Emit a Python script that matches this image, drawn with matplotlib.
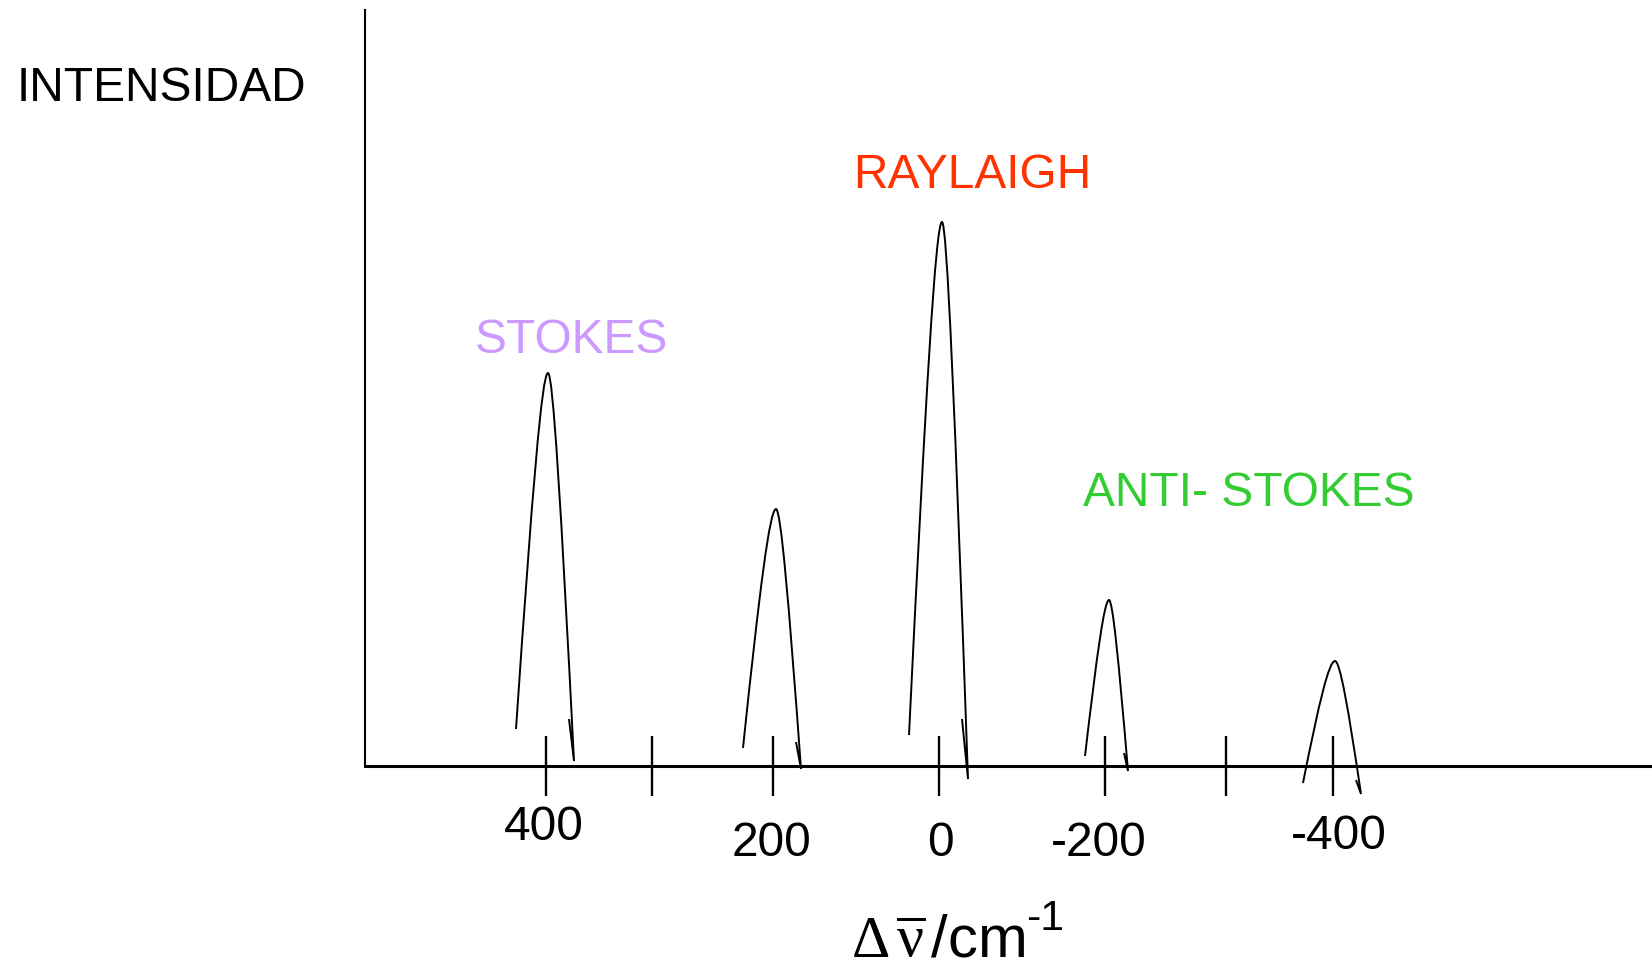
import matplotlib
matplotlib.use("Agg")
import matplotlib.pyplot as plt
from matplotlib.path import Path
from matplotlib.patches import PathPatch

plt.rcParams["font.family"] = ["Liberation Sans", "DejaVu Sans"]
plt.rcParams["mathtext.fontset"] = "custom"
plt.rcParams["mathtext.rm"] = "Liberation Serif"
plt.rcParams["mathtext.it"] = "Liberation Serif:italic"
plt.rcParams["mathtext.sf"] = "Liberation Sans"

# Drawing units: x = distance right of the intensity axis, y = height above the baseline
tick_pos = [181, 287, 408, 574, 740, 861, 968]
tick_labels = ["400", "", "200", "0", "-200", "", "-400"]
label_x = [179, 0, 406, 575, 734, 0, 974]
label_drop = [74, 0, 90, 90, 90, 0, 83]   # hand-placed label baselines below the axis

# peaks: apex, left foot, right end, hook tip
peak_x = [183, 411, 577, 744, 970]
peak_h = [393, 257, 544, 166, 105]
foot_left_x = [151, 378, 544, 720, 938]
foot_left_y = [37, 18, 31, 10, -17]
end_right_x = [209, 436, 603, 763, 996]
end_right_y = [5, -3, -13, -5, -28]
hook_x = [204, 431, 597, 759, 991]
hook_y = [47, 24, 47, 13, -14]

band_names = ["STOKES", "RAYLAIGH", "ANTI- STOKES"]
band_x = [206, 607, 884]
band_y = [413, 578, 260]
band_colors = ["#cc99ff", "#ff3300", "#33cc33"]

fig = plt.figure(figsize=(16.52, 9.66), dpi=100)
ax = fig.add_axes([365 / 1652, 200 / 966, 1287 / 1652, 756 / 966])
ax.set_xlim(0, 1287)
ax.set_ylim(0, 756)
ax.spines["top"].set_visible(False)
ax.spines["right"].set_visible(False)
ax.spines["left"].set_linewidth(1.5)
ax.spines["bottom"].set_linewidth(2.2)
ax.set_yticks([])
ax.set_xticks(tick_pos)
ax.set_xticklabels([])
ax.tick_params(axis="x", direction="inout", length=42.5, width=1.7)


def peak_path(xa, ya, xl, yl, xr, yr, xh, yh):
    # rounded top with almost straight flanks
    dxl, dyl = xl - xa, yl - ya
    dxr, dyr = xr - xa, yr - ya
    verts = [
        (xl, yl),
        (xa + 0.5 * dxl, ya + 0.34 * dyl), (xa + 0.19 * dxl, ya), (xa, ya),
        (xa + 0.19 * dxr, ya), (xa + 0.5 * dxr, ya + 0.34 * dyr), (xr, yr),
        (xh, yh),
    ]
    codes = [Path.MOVETO] + [Path.CURVE4] * 6 + [Path.LINETO]
    return Path(verts, codes)


for i in range(len(peak_x)):
    p = peak_path(peak_x[i], peak_h[i], foot_left_x[i], foot_left_y[i],
                  end_right_x[i], end_right_y[i], hook_x[i], hook_y[i])
    ax.add_patch(PathPatch(p, fill=False, lw=1.4, ec="black", clip_on=False, zorder=3))

for x, lab, drop in zip(label_x, tick_labels, label_drop):
    if lab:
        ax.text(x, -drop, lab, fontsize=34.5, ha="center", va="baseline", clip_on=False)

for name, x, y, c in zip(band_names, band_x, band_y, band_colors):
    ax.text(x, y, name, fontsize=34.5, color=c, ha="center", va="baseline")

ax.text(-348, 665, "INTENSIDAD", fontsize=34.5, ha="left", va="baseline", clip_on=False)

# x-axis title: serif delta / nu-bar, sans "/cm" with a small "-1" raised after it
xt = ax.text(573, -191, r"$\mathrm{\Delta}\,\overline{\mathrm{\nu}}\,$/cm", fontsize=43,
             ha="center", va="baseline", clip_on=False)
ax.annotate("-1", xy=(1, 0), xycoords=xt, xytext=(1, 28), textcoords="offset points",
            fontsize=31, ha="left", va="baseline", annotation_clip=False)

fig.savefig("out.png", dpi=100)
